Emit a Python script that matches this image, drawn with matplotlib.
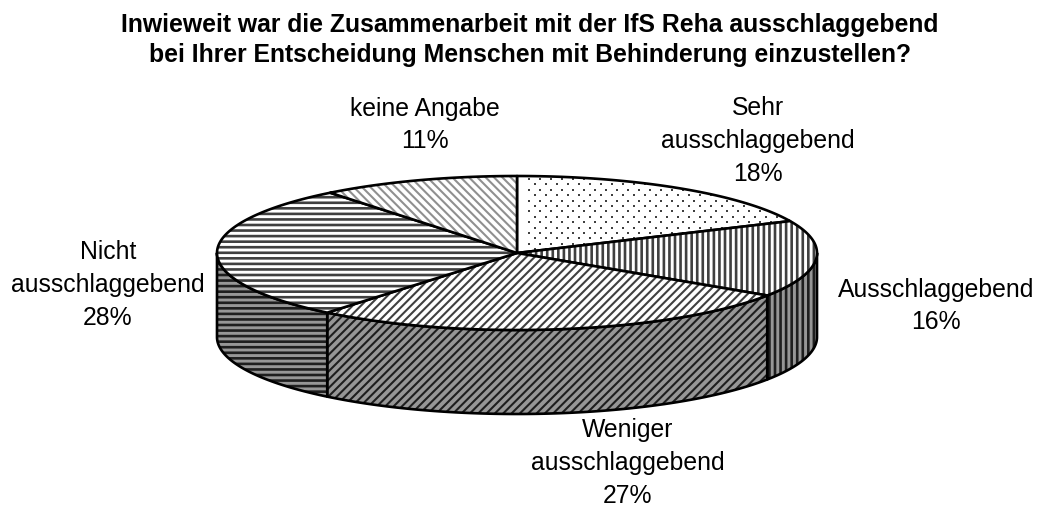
import numpy as np
import matplotlib
matplotlib.use('Agg')
import matplotlib.pyplot as plt
from matplotlib.patches import Polygon

plt.rcParams['font.family'] = ['Liberation Sans', 'DejaVu Sans']

# Daten aus der Grafik
kategorien = ['Sehr\nausschlaggebend', 'Ausschlaggebend', 'Weniger\nausschlaggebend',
              'Nicht\nausschlaggebend', 'keine Angabe']
werte = [18.2, 16.1, 26.6, 28.4, 10.7]
titel = ('Inwieweit war die Zusammenarbeit mit der IfS Reha ausschlaggebend\n'
         'bei Ihrer Entscheidung Menschen mit Behinderung einzustellen?')

# Muster je Segment (das erste Segment bekommt Punkte, siehe unten)
muster = [None, '|||', '////', '---', '\\\\\\\\']
muster_farbe = ['#404040', '#404040', '#404040', '#404040', '#909090']
muster_breite = [1.0, 1.9, 1.5, 1.9, 1.5]
etikett_pos = [(758, 141), (936, 306), (628, 463), (108, 285), (425, 125)]

# Geometrie der Torte in Pixeln
cx, cy = 517, 253
rx, ry = 300, 77
tiefe = 84


def rand(t):
    # t in Grad, im Uhrzeigersinn von oben
    t = np.radians(t)
    return cx + rx * np.sin(t), cy - ry * np.cos(t)


def teil(ax, pts, hatch, hcolor, hlw, face):
    plt.rcParams['hatch.linewidth'] = hlw
    flaeche = Polygon(pts, closed=True, facecolor=face, edgecolor=hcolor, hatch=hatch, linewidth=0)
    ax.add_patch(flaeche)
    if hatch is None:
        # versetztes Punktraster, auf die Flaeche beschnitten
        gx, gy = np.meshgrid(np.arange(529, 800, 11.0), np.arange(179, 260, 10.8))
        gx2, gy2 = gx + 5.5, gy + 5.4
        sc = ax.scatter(np.r_[gx.ravel(), gx2.ravel()], np.r_[gy.ravel(), gy2.ravel()],
                        marker='s', s=4, color=hcolor, linewidths=0)
        sc.set_clip_path(flaeche)
    ax.add_patch(Polygon(pts, closed=True, fill=False, edgecolor='black', linewidth=1.9, joinstyle='round'))


fig = plt.figure(figsize=(10.42, 5.08), dpi=100)
ax = fig.add_axes([0, 0, 1, 1])
ax.set_xlim(0, 1042)
ax.set_ylim(508, 0)
ax.axis('off')

grenzen = np.concatenate([[0], np.cumsum(werte)]) * 360 / sum(werte)

# Seitenwand (nur vorne sichtbar)
for i in range(len(werte)):
    a = max(grenzen[i], 90)
    b = min(grenzen[i + 1], 270)
    if a >= b:
        continue
    t = np.linspace(a, b, 100)
    x, y = rand(t)
    oben = np.column_stack([x, y])
    unten = np.column_stack([x, y + tiefe])[::-1]
    teil(ax, np.vstack([oben, unten]), muster[i], '#1e1e1e', muster_breite[i], '#969696')

# Deckel
for i in range(len(werte)):
    t = np.linspace(grenzen[i], grenzen[i + 1], 100)
    x, y = rand(t)
    pts = np.vstack([[[cx, cy]], np.column_stack([x, y])])
    teil(ax, pts, muster[i], muster_farbe[i], muster_breite[i], 'white')

# Beschriftung
for i in range(len(werte)):
    ax.text(etikett_pos[i][0], etikett_pos[i][1], f'{kategorien[i]}\n{werte[i]:.0f}%',
            ha='center', va='center', fontsize=17.8, linespacing=1.45, color='black')

ax.text(530, 40, titel, ha='center', va='center', fontsize=17.8, fontweight='bold', linespacing=1.36)

fig.savefig('out.png', dpi=100)
